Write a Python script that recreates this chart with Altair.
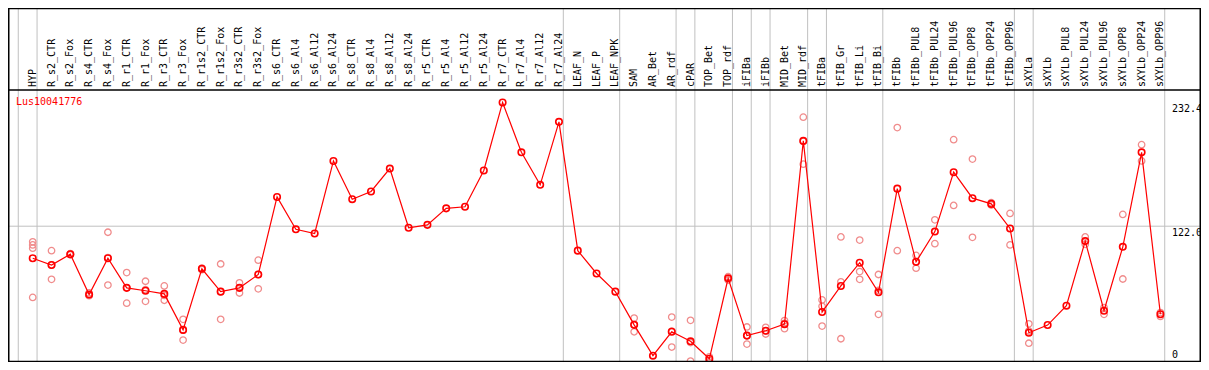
import altair as alt
import pandas as pd

gene = "Lus10041776"

categories = [
    "HYP", "R_s2_CTR", "R_s2_Fox", "R_s4_CTR", "R_s4_Fox", "R_r1_CTR", "R_r1_Fox",
    "R_r3_CTR", "R_r3_Fox", "R_r1s2_CTR", "R_r1s2_Fox", "R_r3s2_CTR", "R_r3s2_Fox",
    "R_s6_CTR", "R_s6_Al4", "R_s6_Al12", "R_s6_Al24", "R_s8_CTR", "R_s8_Al4",
    "R_s8_Al12", "R_s8_Al24", "R_r5_CTR", "R_r5_Al4", "R_r5_Al12", "R_r5_Al24",
    "R_r7_CTR", "R_r7_Al4", "R_r7_Al12", "R_r7_Al24", "LEAF_N", "LEAF_P", "LEAF_NPK",
    "SAM", "AR_Bet", "AR_rdf", "cPAR", "TOP_Bet", "TOP_rdf", "iFIBa", "iFIBb",
    "MID_Bet", "MID_rdf", "tFIBa", "tFIB_Gr", "tFIB_Li", "tFIB_Bi", "tFIBb",
    "tFIBb_PUL8", "tFIBb_PUL24", "tFIBb_PUL96", "tFIBb_OPP8", "tFIBb_OPP24",
    "tFIBb_OPP96", "sXYLa", "sXYLb", "sXYLb_PUL8", "sXYLb_PUL24", "sXYLb_PUL96",
    "sXYLb_OPP8", "sXYLb_OPP24", "sXYLb_OPP96",
]

means = [
    93.4, 87.4, 97.0, 61.0, 93.4, 67.0, 64.4, 61.6, 29.5, 84.0, 63.6, 67.0, 78.9,
    148.1, 119.2, 115.5, 180.2, 146.1, 153.0, 173.4, 120.6, 123.2, 137.9, 139.3,
    171.7, 232.4, 187.9, 158.9, 215.1, 100.2, 79.8, 63.6,
    34.0, 6.5, 27.8, 19.3, 3.7, 75.5, 24.4, 28.7, 34.6, 198.1,
    45.4, 68.7, 89.4, 63.0, 155.5,
    90.2, 117.2, 170.2, 147.0, 141.9, 120.0,
    27.0, 33.8, 51.1, 108.7, 46.6, 103.6, 187.9, 43.4,
]

replicates = [
    [108.1, 105.3, 102.4, 58.5], [100.2, 74.6, 87.4], [97.5, 96.5, 97.0],
    [62.5, 60.0, 60.5], [116.6, 69.5, 94.0], [80.6, 53.3, 67.0], [72.9, 55.0, 65.3],
    [68.7, 55.9, 60.2], [38.9, 20.4, 29.2], [84.5, 83.2], [88.3, 38.9, 63.6],
    [71.5, 62.4, 67.0], [91.7, 66.1, 78.9],
    [], [], [], [], [], [], [], [], [], [], [], [], [], [], [], [], [], [], [],
    [40.0, 27.8, 34.2], [], [40.9, 14.2, 28.3], [38.0, 1.7, 18.2], [5.5, 2.0],
    [77.0, 74.0], [32.1, 16.8, 24.3], [31.8, 25.8, 28.5], [37.8, 30.6, 35.4],
    [219.3, 177.3, 197.7],
    [56.2, 32.9, 50.5], [112.4, 21.6, 72.4], [109.6, 74.6, 81.5], [78.9, 43.4, 64.7],
    [210.0, 100.2],
    [95.9, 84.5], [127.7, 106.4], [199.2, 140.5], [181.9, 112.1], [143.0, 140.8],
    [133.4, 105.3],
    [34.9, 17.6, 28.5], [], [], [112.4, 105.8], [49.4, 43.4], [132.5, 74.9],
    [194.7, 180.2], [44.9, 41.5],
]

# group separators drawn after these categories (plus one before the first)
separators_after = [
    "HYP", "R_r7_Al24", "LEAF_NPK", "AR_rdf", "cPAR", "TOP_rdf", "iFIBa", "iFIBb",
    "MID_rdf", "tFIBa", "tFIB_Bi", "tFIBb_OPP96", "sXYLa", "sXYLb_OPP96",
]

grid_value = 122.0
axis_ticks_top = [232.4, 122.0]
axis_ticks_bottom = [0.0]

W, H, TOP = 1193, 272, 82
FONT = "DejaVu Sans Mono"
RED = "#FF0000"
PINK = "#F08C8C"
GREY = "#C0C0C0"

df_mean = pd.DataFrame({"idx": list(range(len(categories))), "cat": categories, "v": means})
rep_rows = [{"idx": i, "v": val} for i, vals in enumerate(replicates) for val in vals]
df_rep = pd.DataFrame(rep_rows)
sep_idx = [-1] + [categories.index(c) for c in separators_after]
df_sep = pd.DataFrame({"s": [i + 0.23 for i in sep_idx]})

xs = alt.Scale(domain=[-1.316, 62.16], nice=False, zero=False)
ys = alt.Scale(domain=[0.85, 243.5], nice=False, zero=False)

base_mean = alt.Chart(df_mean)

seps = alt.Chart(df_sep).mark_rule(color=GREY, strokeWidth=1).encode(
    x=alt.X("s:Q", scale=xs, axis=None), y=alt.value(-TOP), y2=alt.value(H)
)
hgrid = alt.Chart(pd.DataFrame({"v": [grid_value]})).mark_rule(color=GREY, strokeWidth=1).encode(
    y=alt.Y("v:Q", scale=ys, axis=None), x=alt.value(0), x2=alt.value(W)
)

frame_h = alt.Chart(pd.DataFrame({"yy": [-TOP + 0.5, 0, H - 0.5]})).mark_rule(
    color="black", strokeWidth=1.5
).encode(y=alt.Y("yy:Q", scale=None), x=alt.value(0), x2=alt.value(W))
frame_v = alt.Chart(pd.DataFrame({"xx": [0.75, W - 0.75]})).mark_rule(
    color="black", strokeWidth=1.5
).encode(x=alt.X("xx:Q", scale=None), y=alt.value(-TOP), y2=alt.value(H))

reps = alt.Chart(df_rep).mark_point(
    shape="circle", filled=False, color=PINK, size=42, strokeWidth=1.3, opacity=1
).encode(x=alt.X("idx:Q", scale=xs, axis=None), y=alt.Y("v:Q", scale=ys, axis=None))

line = base_mean.mark_line(color=RED, strokeWidth=1.2).encode(
    x=alt.X("idx:Q", scale=xs, axis=None), y=alt.Y("v:Q", scale=ys, axis=None)
)
pts = base_mean.mark_point(
    shape="circle", filled=False, color=RED, size=42, strokeWidth=1.6, opacity=1
).encode(x=alt.X("idx:Q", scale=xs, axis=None), y=alt.Y("v:Q", scale=ys, axis=None))

labels = base_mean.mark_text(
    angle=270, align="left", baseline="middle", font=FONT, fontSize=10, color="black"
).encode(x=alt.X("idx:Q", scale=xs, axis=None), y=alt.value(-3), text="cat:N")

title = alt.Chart(pd.DataFrame({"t": [gene]})).mark_text(
    align="left", baseline="middle", font=FONT, fontSize=10, color=RED
).encode(text="t:N", x=alt.value(8), y=alt.value(12))

df_tt = pd.DataFrame({"v": axis_ticks_top, "lab": [f"{t:.1f}" for t in axis_ticks_top]})
df_tb = pd.DataFrame({"v": axis_ticks_bottom, "lab": ["0"]})
ticks_top = alt.Chart(df_tt).mark_text(
    align="left", baseline="top", dy=2, font=FONT, fontSize=10, color="black"
).encode(y=alt.Y("v:Q", scale=ys, axis=None), x=alt.value(1164), text="lab:N")
ticks_bot = alt.Chart(df_tb).mark_text(
    align="left", baseline="bottom", dy=-3, font=FONT, fontSize=10, color="black"
).encode(y=alt.Y("v:Q", scale=ys, axis=None), x=alt.value(1164), text="lab:N")

chart = alt.layer(
    seps, hgrid, reps, line, pts, labels, title, ticks_top, ticks_bot, frame_h, frame_v
).properties(
    width=W, height=H,
    padding={"top": TOP, "left": 0, "right": 0, "bottom": 0},
    autosize=alt.AutoSizeParams(type="none"),
    background="white",
).configure_view(stroke=None)

chart.save("out.html", embed_options={"renderer": "svg", "actions": False})
